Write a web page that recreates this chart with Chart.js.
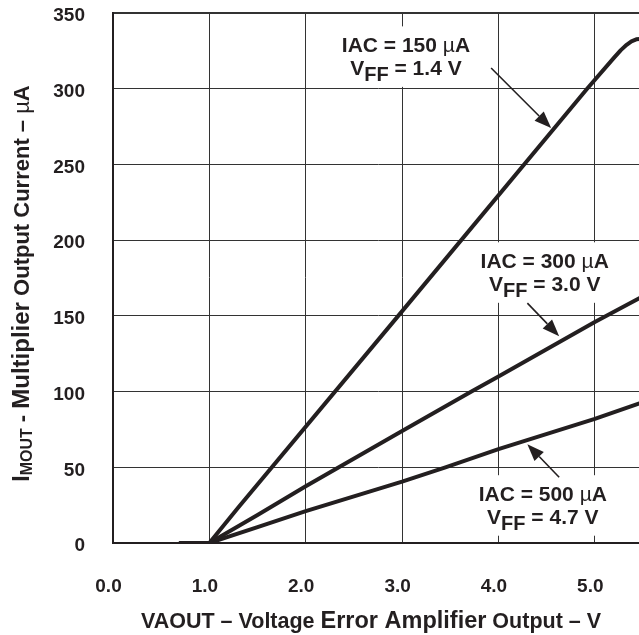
<!DOCTYPE html>
<html>
<head>
<meta charset="utf-8">
<script src="https://cdn.jsdelivr.net/npm/chart.js@4.4.1/dist/chart.umd.min.js"></script>
<style>
  html, body { margin: 0; padding: 0; background: #fff; overflow: hidden; }
  #wrap { width: 650px; height: 635px; }
</style>
</head>
<body>
<div id="wrap"><canvas id="chart"></canvas></div>
<script>
// du lieu doc tu hinh (VAOUT - V, IMOUT - uA)
const vaout150 = [0.7, 1.0, 1.3, 2.96, 4.92, 5.2, 5.27, 5.33, 5.38, 5.43, 5.5];
const imout150 = [0, 0, 23.5, 150, 300, 320.5, 325.5, 329, 331.3, 332.6, 333];

const vaout300 = [0.7, 1.0, 1.5, 2.0, 3.0, 3.72, 4.0, 5.0, 5.5];
const imout300 = [0, 0, 18.5, 37.5, 74, 100, 110, 146, 163];

const vaout500 = [0.7, 1.0, 1.5, 2.0, 3.0, 3.45, 4.0, 5.0, 5.5];
const imout500 = [0, 0, 10.5, 21, 40.5, 50, 62, 82, 93];

const xTicks = [0, 1, 2, 3, 4, 5];
const yTicks = [0, 50, 100, 150, 200, 250, 300, 350];

// nhan chu thich
const iacValues = ['150', '300', '500'];
const vffValues = ['1.4', '3.0', '4.7'];
const labelX = [3.04, 4.48, 4.46];
const labelY = [324, 181.4, 27.6];
const arrowFrom = [[3.924, 313.7], [4.30, 158.4], [4.63, 43.4]];
const arrowTo = [[4.547, 274], [4.63, 136.6], [4.30, 65.2]];

const ink = '#231f20';
const fam = '"Liberation Sans", Arial, Helvetica, sans-serif';

function toPoints(xs, ys) {
  return xs.map((v, i) => ({ x: v, y: ys[i] }));
}

function runsWidth(ctx, runs) {
  let w = 0;
  runs.forEach(r => { ctx.font = r[1]; w += ctx.measureText(r[0]).width; });
  return w;
}

function drawRuns(ctx, runs, cx, by) {
  let x = cx - runsWidth(ctx, runs) / 2;
  runs.forEach(r => {
    ctx.font = r[1];
    ctx.fillText(r[0], x, by + (r[2] || 0));
    x += ctx.measureText(r[0]).width;
  });
}

const extras = {
  id: 'extras',
  beforeDatasetsDraw(chart) {
    const { ctx, scales: { x, y } } = chart;
    ctx.save();
    ctx.textBaseline = 'alphabetic';
    for (let i = 0; i < iacValues.length; i++) {
      const cx = x.getPixelForValue(labelX[i]);
      const b1 = y.getPixelForValue(labelY[i]);
      const b2 = b1 + 22.5;
      const r1 = [['IAC = ' + iacValues[i] + ' ', 'bold 21px ' + fam], ['\u00b5', '21px ' + fam], ['A', 'bold 21px ' + fam]];
      const r2 = [['V', 'bold 21px ' + fam], ['FF', 'bold 20px ' + fam, 6], [' = ' + vffValues[i] + ' V', 'bold 21px ' + fam]];
      const w = Math.max(runsWidth(ctx, r1), runsWidth(ctx, r2)) + 12;
      ctx.fillStyle = '#fff';
      ctx.fillRect(cx - w / 2, b1 - 26, w, (b2 + 12) - (b1 - 26));
      ctx.fillStyle = ink;
      drawRuns(ctx, r1, cx, b1);
      drawRuns(ctx, r2, cx, b2);
    }
    ctx.restore();
  },
  afterDatasetsDraw(chart) {
    const { ctx, scales: { x, y } } = chart;
    ctx.save();
    ctx.strokeStyle = ink;
    ctx.fillStyle = ink;
    ctx.lineWidth = 1.6;
    arrowFrom.forEach((p, i) => {
      const x0 = x.getPixelForValue(p[0]), y0 = y.getPixelForValue(p[1]);
      const x1 = x.getPixelForValue(arrowTo[i][0]), y1 = y.getPixelForValue(arrowTo[i][1]);
      const a = Math.atan2(y1 - y0, x1 - x0);
      const len = 17, half = 6.5;
      const bx = x1 - len * Math.cos(a), by = y1 - len * Math.sin(a);
      ctx.beginPath();
      ctx.moveTo(x0, y0);
      ctx.lineTo(bx, by);
      ctx.stroke();
      ctx.beginPath();
      ctx.moveTo(x1, y1);
      ctx.lineTo(bx + half * Math.sin(a), by - half * Math.cos(a));
      ctx.lineTo(bx - half * Math.sin(a), by + half * Math.cos(a));
      ctx.closePath();
      ctx.fill();
    });
    ctx.restore();
  },
  afterDraw(chart) {
    const { ctx } = chart;
    ctx.save();
    ctx.fillStyle = ink;
    ctx.textBaseline = 'alphabetic';
    // tieu de truc x
    drawRuns(ctx, [
      ['VAOUT \u2013 Voltage ', 'bold 21.5px ' + fam],
      ['Error Amplifier', 'bold 23.5px ' + fam],
      [' Output \u2013 V', 'bold 21.5px ' + fam]
    ], 371, 628);
    // tieu de truc y (xoay)
    ctx.translate(21, 283.5);
    ctx.rotate(-Math.PI / 2);
    drawRuns(ctx, [
      ['I', 'bold 23px ' + fam],
      ['MOUT', 'bold 16px ' + fam, 3],
      [' - ', 'bold 22px ' + fam],
      ['Multiplier', 'bold 24px ' + fam],
      [' Output Current \u2013 ', 'bold 22px ' + fam],
      ['\u00b5', '22px ' + fam],
      ['A', 'bold 22px ' + fam]
    ], 0, 8);
    ctx.restore();
  }
};

const lineStyle = {
  borderColor: ink,
  borderWidth: 4,
  pointRadius: 0,
  showLine: true,
  fill: false,
  tension: 0,
  borderCapStyle: 'round',
  borderJoinStyle: 'round'
};

new Chart(document.getElementById('chart'), {
  type: 'scatter',
  data: {
    datasets: [
      Object.assign({ label: 'IAC = 150 uA', data: toPoints(vaout150, imout150) }, lineStyle),
      Object.assign({ label: 'IAC = 300 uA', data: toPoints(vaout300, imout300) }, lineStyle),
      Object.assign({ label: 'IAC = 500 uA', data: toPoints(vaout500, imout500) }, lineStyle)
    ]
  },
  options: {
    responsive: true,
    maintainAspectRatio: false,
    animation: false,
    layout: { padding: { top: 13, right: 7, left: 0, bottom: 0 } },
    plugins: {
      legend: { display: false },
      tooltip: { enabled: false }
    },
    scales: {
      x: {
        type: 'linear',
        min: 0,
        max: 5.5,
        afterBuildTicks: s => { s.ticks = xTicks.map(v => ({ value: v })); },
        afterFit: s => { s.height = 92; s.paddingLeft = 0; s.paddingRight = 0; },
        grid: {
          color: '#333',
          lineWidth: c => (c.tick && c.tick.value === 0 ? 0 : 1),
          drawTicks: false
        },
        border: { display: true, color: ink, width: 2 },
        ticks: {
          padding: 32,
          labelOffset: -4.5,
          color: ink,
          font: { family: fam, size: 19, weight: 'bold' },
          callback: v => v.toFixed(1)
        }
      },
      y: {
        type: 'linear',
        min: 0,
        max: 350,
        afterBuildTicks: s => { s.ticks = yTicks.map(v => ({ value: v })); },
        afterFit: s => { s.width = 113; s.paddingTop = 0; s.paddingBottom = 0; },
        grid: {
          color: '#333',
          lineWidth: c => (c.tick && c.tick.value === 350 ? 2 : (c.tick && c.tick.value === 0 ? 0 : 1)),
          drawTicks: false
        },
        border: { display: true, color: ink, width: 2 },
        ticks: {
          padding: 28,
          labelOffset: 3,
          color: ink,
          font: { family: fam, size: 19, weight: 'bold' }
        }
      }
    }
  },
  plugins: [extras]
});
</script>
</body>
</html>
